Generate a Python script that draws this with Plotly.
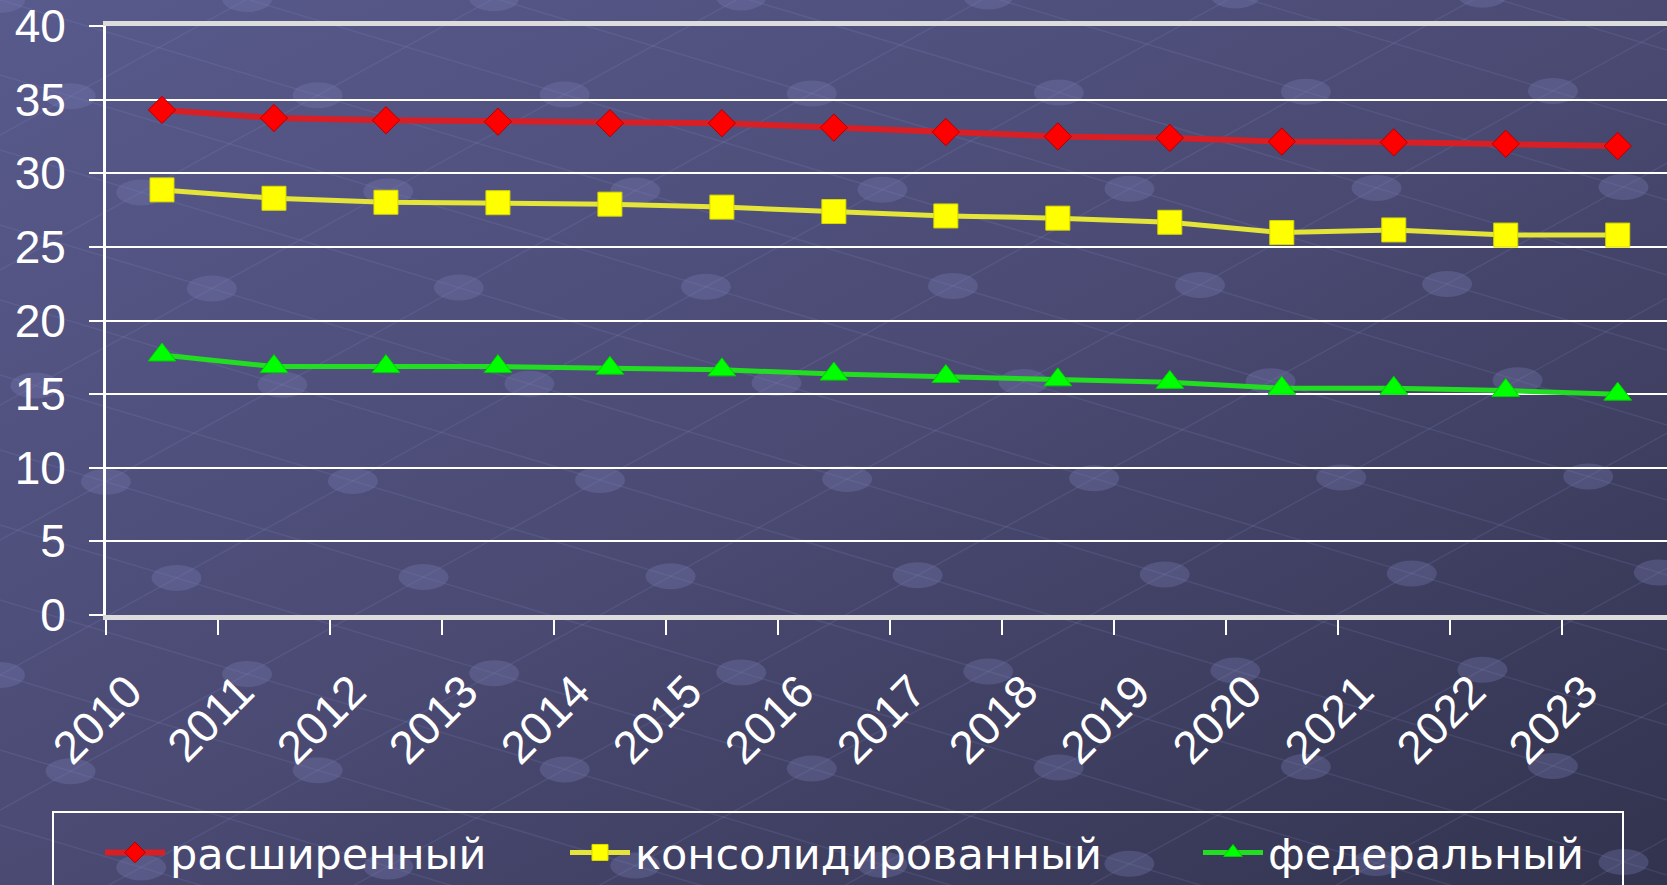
import base64
import plotly.graph_objects as go

# ---- data ----
years = ['2010', '2011', '2012', '2013', '2014', '2015', '2016',
         '2017', '2018', '2019', '2020', '2021', '2022', '2023']
expanded = [34.3, 33.75, 33.6, 33.5, 33.4, 33.4, 33.1,
            32.8, 32.5, 32.4, 32.15, 32.1, 32.0, 31.85]
consolidated = [28.87, 28.3, 28.03, 28.0, 27.9, 27.7, 27.4,
                27.1, 26.95, 26.67, 25.97, 26.15, 25.8, 25.8]
federal = [17.66, 16.87, 16.87, 16.87, 16.76, 16.65, 16.36,
           16.2, 15.97, 15.8, 15.4, 15.4, 15.24, 15.0]
series_names = ['расширенный', 'консолидированный', 'федеральный']
y_ticks = [0, 5, 10, 15, 20, 25, 30, 35, 40]

W, H = 1667, 885
FONT = 'Liberation Sans, Arial, sans-serif'
LEG_FONT = 'DejaVu Sans, Liberation Sans, sans-serif'

# ---- decorative background: gradient + faint lattice of lines and dots ----
parts = []
s1, s2 = 0.30, -0.55
dA, dB = 75, 135
for k in range(-30, 14):
    a = k * dA
    parts.append(f"<line x1='0' y1='{a:.1f}' x2='{W}' y2='{a + s1 * W:.1f}' "
                 "stroke='rgba(150,155,210,0.14)' stroke-width='1.5'/>")
for m in range(0, 20):
    b = m * dB
    parts.append(f"<line x1='0' y1='{b:.1f}' x2='{W}' y2='{b + s2 * W:.1f}' "
                 "stroke='rgba(150,155,210,0.14)' stroke-width='1.5'/>")
for k in range(-30, 14):
    for m in range(0, 20):
        a, b = k * dA, m * dB
        xi = (b - a) / (s1 - s2)
        yi = s1 * xi + a
        if (k + m) % 2 == 0 and -40 < xi < W + 40 and -30 < yi < H + 30:
            parts.append(f"<ellipse cx='{xi:.1f}' cy='{yi:.1f}' rx='25' ry='13' "
                         "fill='rgba(120,125,180,0.33)'/>")
svg = (
    f"<svg xmlns='http://www.w3.org/2000/svg' width='{W}' height='{H}' viewBox='0 0 {W} {H}' preserveAspectRatio='none'>"
    "<defs><linearGradient id='g' x1='0' y1='0' x2='1' y2='1'>"
    "<stop offset='0' stop-color='#585a8c'/>"
    "<stop offset='0.5' stop-color='#4a4a73'/>"
    "<stop offset='1' stop-color='#32334e'/>"
    "</linearGradient></defs>"
    f"<rect width='{W}' height='{H}' fill='url(#g)'/>" + ''.join(parts) + "</svg>"
)
bg_uri = 'data:image/svg+xml;base64,' + base64.b64encode(svg.encode()).decode()

xs = list(range(len(years)))

fig = go.Figure()
fig.add_trace(go.Scatter(
    x=xs, y=expanded, name=series_names[0], mode='lines+markers',
    legend='legend',
    line=dict(color='#d81f26', width=6),
    marker=dict(symbol='diamond', size=21, color='#ff0000',
                line=dict(color='#b00000', width=1))))
fig.add_trace(go.Scatter(
    x=xs, y=consolidated, name=series_names[1], mode='lines+markers',
    legend='legend2',
    line=dict(color='#e4e43a', width=5),
    marker=dict(symbol='square', size=24, color='#ffff00',
                line=dict(color='#d8d800', width=1))))
fig.add_trace(go.Scatter(
    x=xs, y=federal, name=series_names[2], mode='lines+markers',
    legend='legend3',
    line=dict(color='#22dd22', width=5),
    marker=dict(symbol='triangle-up', size=24, color='#00ff00',
                line=dict(color='#00d000', width=1))))

leg_common = dict(
    orientation='h', xanchor='left', yanchor='top',
    y=1 - 818 / H,
    bgcolor='rgba(0,0,0,0)', borderwidth=0,
    font=dict(size=43, color='white', family=LEG_FONT),
    itemwidth=60,
)

fig.update_layout(
    width=W, height=H,
    margin=dict(l=0, r=0, t=0, b=0, autoexpand=False),
    paper_bgcolor='#4a4a72',
    plot_bgcolor='rgba(0,0,0,0)',
    images=[dict(source=bg_uri, xref='paper', yref='paper', x=0, y=1,
                 sizex=1, sizey=1, xanchor='left', yanchor='top',
                 sizing='stretch', layer='below')],
    font=dict(family=FONT, color='white', size=46),
    xaxis=dict(
        domain=[106 / W, 1.0],
        range=[-0.5, 13.44],
        tickmode='array',
        tickvals=[i - 0.3 for i in xs],
        ticktext=years,
        tickangle=-45,
        ticks='',
        ticklabelstandoff=26,
        tickfont=dict(size=46, color='white', family=FONT),
        showgrid=False, zeroline=False,
        showline=True, linecolor='#dcdcdc', linewidth=5, mirror=True,
        minor=dict(tickmode='linear', tick0=-0.5, dtick=1, ticks='outside',
                   ticklen=15, tickwidth=2, tickcolor='white', showgrid=False),
    ),
    yaxis=dict(
        domain=[(H - 615) / H, (H - 26) / H],
        range=[0, 40],
        tickmode='array', tickvals=y_ticks,
        ticks='outside', ticklen=14, tickwidth=2, tickcolor='white',
        ticklabelstandoff=14,
        tickfont=dict(size=46, color='white', family=FONT),
        showgrid=True, gridcolor='white', gridwidth=2,
        zeroline=False,
        showline=True, linecolor='white', linewidth=3,
    ),
    showlegend=True,
    legend=dict(leg_common, x=100 / W),
    legend2=dict(leg_common, x=565 / W),
    legend3=dict(leg_common, x=1198 / W),
    shapes=[dict(type='rect', xref='paper', yref='paper',
                 x0=53 / W, x1=1623 / W, y0=-0.05, y1=1 - 812 / H,
                 line=dict(color='white', width=2), fillcolor='rgba(0,0,0,0)',
                 layer='above')],
)

fig.write_html('out.html',
               config={'displayModeBar': False},
               post_script="document.body.style.margin='0px';document.body.style.overflow='hidden';")
